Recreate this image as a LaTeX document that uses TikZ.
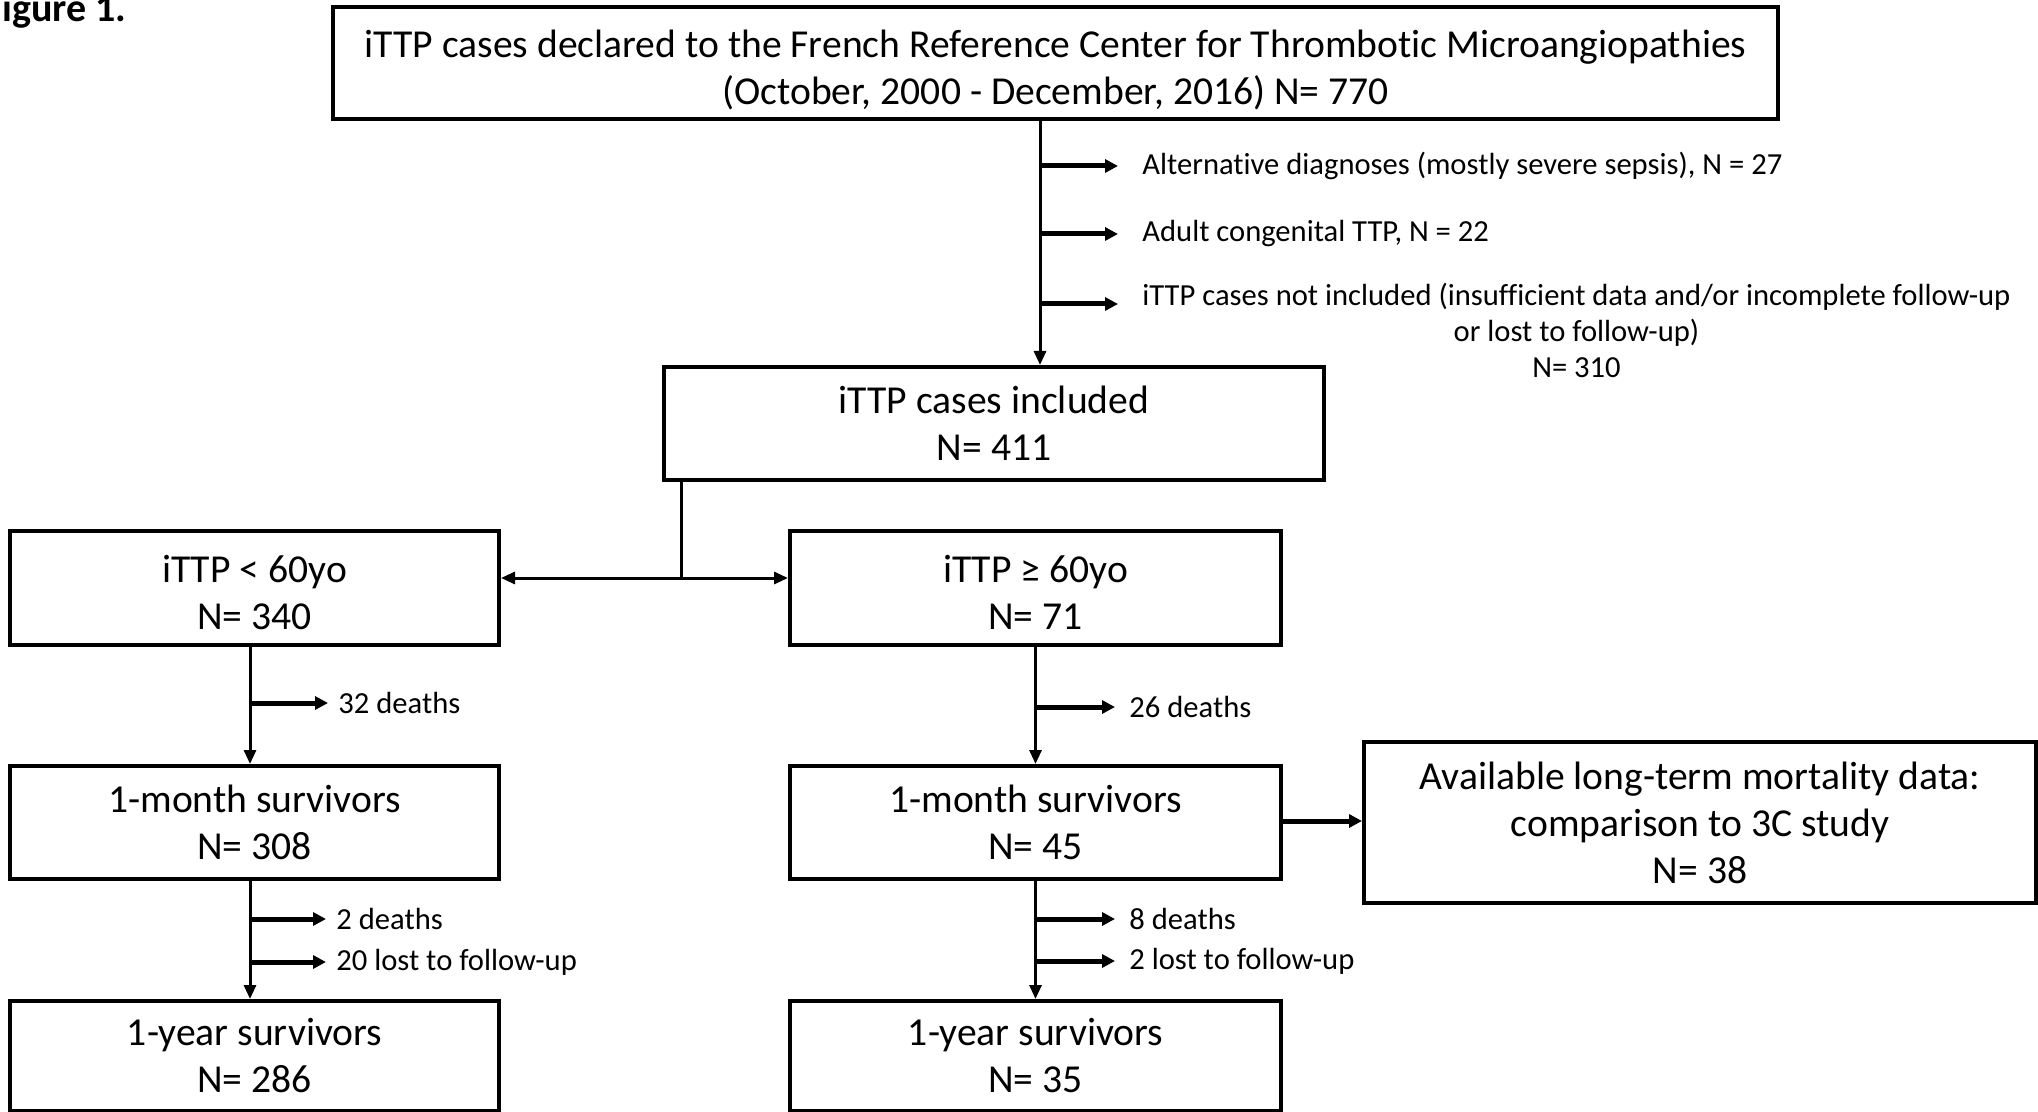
\documentclass[tikz,border=0pt]{standalone}
\usepackage{fontspec}
\setmainfont{Carlito}[Ligatures=NoCommon]
\usetikzlibrary{arrows.meta,calc}
\tikzset{
  box/.style={draw, line width=2pt, align=center, inner sep=0pt,
    font=\fontsize{19.8}{23.5}\selectfont},
  conn/.style={line width=1.5pt, -{Triangle[length=7pt,width=6pt]}},
  plain/.style={line width=1.5pt},
  branch/.style={line width=2.5pt, -{Triangle[length=6.5pt,width=6.5pt]}},
  lbl/.style={inner sep=0pt, font=\fontsize{15.3}{18}\selectfont, align=center},
  figlbl/.style={inner sep=0pt, font=\bfseries\fontsize{20}{20}\selectfont},
}
\begin{document}
\begin{tikzpicture}[x=0.5pt,y=-0.5pt]
\useasboundingbox (0,0) rectangle (2038,1112);
\node[figlbl, anchor=base east] (fig) at (127,22) {Figure 1.};

\node[box, minimum width=722.5pt, minimum height=56pt] (top) at (1055.5,63)
  {\rule{0pt}{21pt}iTTP cases declared to the French Reference Center for Thrombotic Microangiopathies\\(October, 2000 - December, 2016) N= 770};
\node[box, minimum width=330pt, minimum height=56.5pt] (incl) at (994,423.5)
  {iTTP cases included\\N= 411};

\node[box, minimum width=244.5pt, minimum height=57pt] (a1) at (254.5,588) {\rule{0pt}{18pt}iTTP < 60yo\\N= 340};
\node[box, minimum width=245.5pt, minimum height=57pt] (b1) at (1035.5,588) {\rule{0pt}{18pt}iTTP ≥ 60yo\\N= 71};
\node[box, minimum width=244.5pt, minimum height=56.5pt] (a2) at (254.5,822.5) {1-month survivors\\N= 308};
\node[box, minimum width=245.5pt, minimum height=56.5pt] (b2) at (1035.5,822.5) {1-month survivors\\N= 45};
\node[box, minimum width=244.5pt, minimum height=55pt] (a3) at (254.5,1056) {1-year survivors\\N= 286};
\node[box, minimum width=245.5pt, minimum height=55pt] (b3) at (1035.5,1056) {1-year survivors\\N= 35};
\node[box, minimum width=336pt, minimum height=80.5pt] (av) at (1700,822.5)
  {Available long-term mortality data:\\comparison to 3C study\\N= 38};

% exclusion labels
\node[lbl, anchor=west] (x1) at (1142,166) {Alternative diagnoses (mostly severe sepsis), N = 27};
\node[lbl, anchor=west] (x2) at (1142,234) {Adult congenital TTP, N = 22};
\node[lbl, anchor=north west] (x3) at (1142,283)
  {iTTP cases not included (insufficient data and/or incomplete follow-up\\or lost to follow-up)\\N= 310};
\coordinate (x3a) at (1142,304);

\draw[conn] (top.south -| 1040,0) -- (incl.north -| 1040,0);
\foreach \n in {x1,x2} \draw[branch, shorten >=12pt] (\n.west -| 1040,0) -- (\n.west);
\draw[branch, shorten >=12pt] (x3a -| 1040,0) -- (x3a);

% split
\coordinate (split) at (681,578);
\draw[plain] (incl.south -| split) -- (split);
\draw[line width=1.5pt, {Triangle[length=7pt,width=6pt]}-{Triangle[length=7pt,width=6pt]}] (a1.east |- split) -- (b1.west |- split);

% left column
\node[lbl, anchor=west] (l1) at (338,703) {32 deaths};
\node[lbl, anchor=west] (l2) at (336,919) {2 deaths};
\node[lbl, anchor=west] (l3) at (336,962) {20 lost to follow-up};
\draw[conn] (a1.south -| 250,0) -- (a2.north -| 250,0);
\draw[conn] (a2.south -| 250,0) -- (a3.north -| 250,0);
\foreach \n in {l1,l2,l3} \draw[branch, shorten >=5pt] (\n.west -| 250,0) -- (\n.west);

% right column
\node[lbl, anchor=west] (r1) at (1129,707) {26 deaths};
\node[lbl, anchor=west] (r2) at (1129,919) {8 deaths};
\node[lbl, anchor=west] (r3) at (1129,961) {2 lost to follow-up};
\draw[conn] (b1.south) -- (b2.north);
\draw[conn] (b2.south) -- (b3.north);
\foreach \n in {r1,r2,r3} \draw[branch, shorten >=7pt] (\n.west -| b1.south) -- (\n.west);

\draw[branch] (b2.east |- 0,821) -- (av.west |- 0,821);
\end{tikzpicture}
\end{document}
